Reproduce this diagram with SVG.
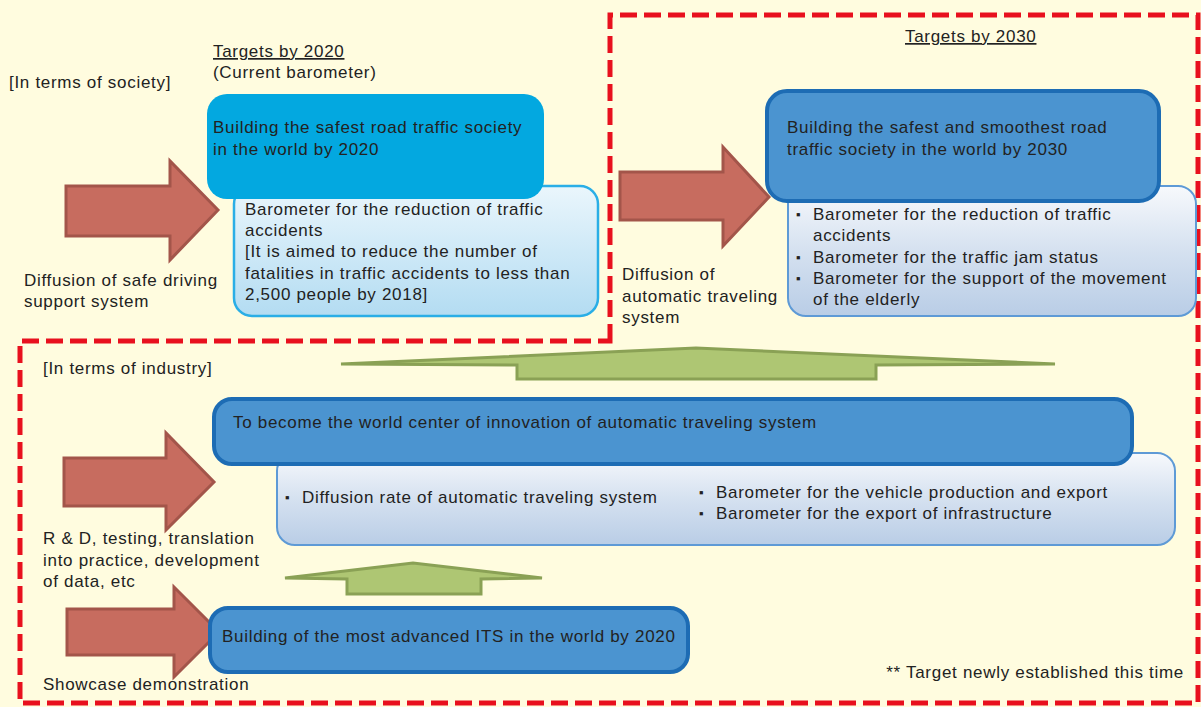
<svg xmlns="http://www.w3.org/2000/svg" width="1201" height="707" viewBox="0 0 1201 707">
<defs>
<style>
text{font-family:"Liberation Sans",Arial,sans-serif;font-size:17px;letter-spacing:0.7px;fill:#222;}
.bul{font-size:13px;letter-spacing:0;}
.red{fill:#C76C5F;stroke:#A3554A;stroke-width:3;stroke-linejoin:miter;}
.green{fill:#AEC673;stroke:#8AA155;stroke-width:3;stroke-linejoin:miter;}
.blue{fill:#4B94D0;stroke:#1D6CB4;stroke-width:4;}
.lightb{fill:url(#gB);stroke:#5E9AD6;stroke-width:2;}
.lightc{fill:url(#gC);stroke:#2AAEE6;stroke-width:2.5;}
.dash{fill:none;stroke:#E8101E;stroke-width:5;stroke-dasharray:17 7;}
</style>
<linearGradient id="gB" x1="0" y1="0" x2="0" y2="1">
<stop offset="0" stop-color="#F7F9FC"/>
<stop offset="0.5" stop-color="#D5E1F0"/>
<stop offset="1" stop-color="#B9CDE6"/>
</linearGradient>
<linearGradient id="gC" x1="0" y1="0" x2="0" y2="1">
<stop offset="0" stop-color="#EAF6FC"/>
<stop offset="1" stop-color="#B3DCF2"/>
</linearGradient>
</defs>
<rect x="0" y="0" width="1201" height="707" fill="#FFFCDF"/>
<path class="dash" d="M610 341 L610 15 L1198 15 L1198 703 L20 703 L20 341 Z"/>

<text x="9" y="88">[In terms of society]</text>
<text x="213" y="57" text-decoration="underline">Targets by 2020</text>
<text x="213" y="78">(Current barometer)</text>
<text x="905" y="42" text-decoration="underline">Targets by 2030</text>

<g id="connectors">
<polygon class="red" points="66,186 170,186 170,161 218,210 170,260 170,236 66,236"/>
<polygon class="red" points="620,172 723,172 723,147 769,197 723,246 723,220 620,220"/>
<polygon class="red" points="64,458 166,458 166,433 214,482 166,530 166,506 64,506"/>
<polygon class="red" points="67,609 174,609 174,587 219,632 174,677 174,655 67,655"/>
<polygon class="green" points="341,364 696,348 1055,364 876,365 876,379 517,379 517,365"/>
<polygon class="green" points="285,578 413,563 542,578 481,579 481,594 347,594 347,579"/>
</g>

<g id="node-2020-barometer">
<rect class="lightc" x="234" y="186" width="364" height="130" rx="18"/>
<text x="245" y="215">Barometer for the reduction of traffic</text>
<text x="245" y="236">accidents</text>
<text x="245" y="257">[It is aimed to reduce the number of</text>
<text x="245" y="279">fatalities in traffic accidents to less than</text>
<text x="245" y="300">2,500 people by 2018]</text>
</g>
<g id="node-2020-target">
<rect x="207" y="94" width="337" height="105" rx="20" fill="#03A8E0"/>
<text x="213" y="133">Building the safest road traffic society</text>
<text x="213" y="155">in the world by 2020</text>
</g>

<g id="node-2030-barometer">
<rect class="lightb" x="788" y="186" width="408" height="130" rx="18"/>
<text class="bul" x="796" y="219">▪</text>
<text x="813" y="220">Barometer for the reduction of traffic</text>
<text x="813" y="241">accidents</text>
<text class="bul" x="796" y="262">▪</text>
<text x="813" y="263">Barometer for the traffic jam status</text>
<text class="bul" x="796" y="283">▪</text>
<text x="813" y="284">Barometer for the support of the movement</text>
<text x="813" y="305">of the elderly</text>
</g>
<g id="node-2030-target">
<rect class="blue" x="767" y="91" width="392" height="110" rx="20"/>
<text x="787" y="133">Building the safest and smoothest road</text>
<text x="787" y="155">traffic society in the world by 2030</text>
</g>

<text x="24" y="286">Diffusion of safe driving</text>
<text x="24" y="307">support system</text>
<text x="622" y="280">Diffusion of</text>
<text x="622" y="302">automatic traveling</text>
<text x="622" y="323">system</text>

<text x="43" y="374">[In terms of industry]</text>

<g id="node-industry-barometer">
<rect class="lightb" x="277" y="453" width="898" height="92" rx="18"/>
<text class="bul" x="285" y="502">▪</text>
<text x="302" y="503">Diffusion rate of automatic traveling system</text>
<text class="bul" x="699" y="497">▪</text>
<text x="716" y="498">Barometer for the vehicle production and export</text>
<text class="bul" x="699" y="518">▪</text>
<text x="716" y="519">Barometer for the export of infrastructure</text>
</g>
<g id="node-industry-target">
<rect class="blue" x="214" y="399" width="918" height="65" rx="18"/>
<text x="233" y="428">To become the world center of innovation of automatic traveling system</text>
</g>

<g id="node-its">
<rect class="blue" x="210" y="608" width="478" height="64" rx="18"/>
<text x="222" y="642">Building of the most advanced ITS in the world by 2020</text>
</g>

<text x="43" y="544">R &amp; D, testing, translation</text>
<text x="43" y="566">into practice, development</text>
<text x="43" y="587">of data, etc</text>
<text x="43" y="690">Showcase demonstration</text>
<text x="1184" y="678" text-anchor="end">** Target newly established this time</text>
</svg>
